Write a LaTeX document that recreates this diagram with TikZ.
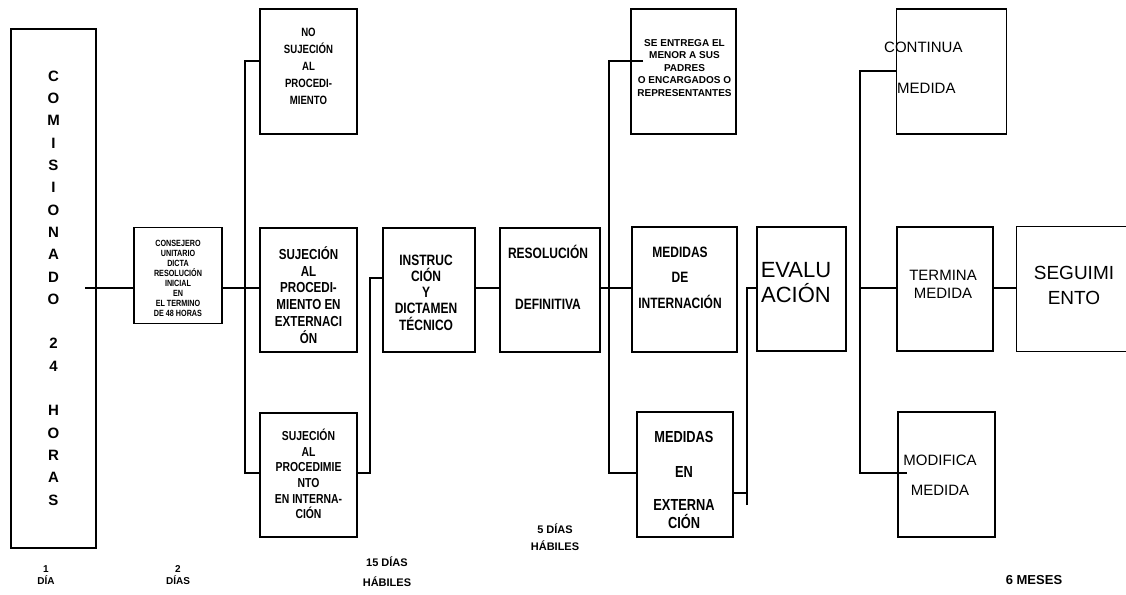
\documentclass[tikz,border=0pt]{standalone}
\usepackage{fontspec}
\setmainfont{Liberation Sans}
\newfontfamily\nar{Liberation Sans}[FakeStretch=0.8]
\newcommand\narf[2]{\nar\bfseries\fontsize{#1}{#2}\selectfont}
\newcommand\regf[2]{\normalfont\fontsize{#1}{#2}\selectfont}
\newcommand\bldf[2]{\normalfont\bfseries\fontsize{#1}{#2}\selectfont}
\begin{document}
\begin{tikzpicture}[x=1pt,y=-1pt,
  box/.style={draw, line width=1.2pt, inner sep=0pt, rectangle},
  wire/.style={line width=1.2pt},
  txt/.style={inner sep=0pt, align=center}]
\useasboundingbox (0,0) rectangle (1126,594);
% boxes
\node[box, minimum width=85pt, minimum height=519pt] (com) at (53.5,288.5) {};
\node[box, minimum width=88pt, minimum height=96pt] (cons) at (178,275.5) {};
\node[box, minimum width=97pt, minimum height=125pt] (nosuj) at (308.5,71.5) {};
\node[box, minimum width=97pt, minimum height=124pt] (sujext) at (308.5,290) {};
\node[box, minimum width=97pt, minimum height=124pt] (sujint) at (308.5,475) {};
\node[box, minimum width=92pt, minimum height=124pt] (instr) at (429,290) {};
\node[box, minimum width=100pt, minimum height=124pt] (res) at (550,290) {};
\node[box, minimum width=105pt, minimum height=125pt] (sent) at (683.5,71.5) {};
\node[box, minimum width=105pt, minimum height=125pt] (medint) at (684.5,289.5) {};
\node[box, minimum width=96pt, minimum height=125pt] (medext) at (685,474.5) {};
\node[box, minimum width=89pt, minimum height=124pt] (eval) at (801.5,289) {};
\node[box, minimum width=110pt, minimum height=125pt] (cont) at (951.5,71.5) {};
\node[box, minimum width=96pt, minimum height=124pt] (term) at (945,289) {};
\node[inner sep=0pt, minimum width=109pt, minimum height=124pt] (seg) at (1071.5,289) {};
\draw[line width=1.2pt] (seg.north east) -- (seg.north west) -- (seg.south west) -- (seg.south east);
\node[box, minimum width=97pt, minimum height=125pt] (modif) at (946.5,474.5) {};
% texts
\node[txt, font=\bldf{15}{22.3}] (tcom) at (53.5,288) {C\\O\\M\\I\\S\\I\\O\\N\\A\\D\\O\\[22.3pt]2\\4\\[22.3pt]H\\O\\R\\A\\S};
\node[txt, font=\narf{9}{10}] (tcons) at (178,278) {CONSEJERO\\UNITARIO\\DICTA\\RESOLUCIÓN\\INICIAL\\EN\\EL TERMINO\\DE 48 HORAS};
\node[txt, font=\narf{12}{17}] (tnosuj) at (308.5,66) {NO\\SUJECIÓN\\AL\\PROCEDI-\\MIENTO};
\node[txt, font=\narf{14.5}{16.8}] (tsujext) at (308.5,295) {SUJECIÓN\\AL\\PROCEDI-\\MIENTO EN\\EXTERNACI\\ÓN};
\node[txt, font=\narf{13}{15.6}] (tsujint) at (308.5,474) {SUJECIÓN\\AL\\PROCEDIMIE\\NTO\\EN INTERNA-\\CIÓN};
\node[txt, font=\narf{15}{16.3}] (tinstr) at (426,292.5) {INSTRUC\\CIÓN\\Y\\DICTAMEN\\TÉCNICO};
\node[txt, font=\narf{15}{17}] (tres) at (548,277.5) {RESOLUCIÓN\\[34pt]DEFINITIVA};
\node[txt, font=\bldf{10}{12.5}] (tsent) at (684.5,68) {SE ENTREGA EL\\MENOR A SUS\\PADRES\\O ENCARGADOS O\\REPRESENTANTES};
\node[txt, font=\narf{15}{25.5}] (tmedint) at (680,277.5) {MEDIDAS\\DE\\INTERNACIÓN};
\node[txt, font=\narf{16}{18}] (tmedext) at (684,480) {MEDIDAS\\[17pt]EN\\[15pt]EXTERNA\\CIÓN};
\node[txt, font=\regf{22}{25}] (teval) at (796,282.5) {EVALU\\ACIÓN};
\node[txt, anchor=west, font=\regf{15}{18}] (tcont1) at (884,47) {CONTINUA};
\node[txt, anchor=west, font=\regf{15}{18}] (tcont2) at (897,88) {MEDIDA};
\node[txt, font=\regf{15}{18}] (tterm) at (943,284) {TERMINA\\MEDIDA};
\node[txt, font=\regf{19}{25}] (tseg) at (1074,285.5) {SEGUIMI\\ENTO};
\node[txt, font=\regf{15}{30}] (tmodif) at (940,475) {MODIFICA\\MEDIDA};
% bottom labels
\node[txt, font=\bldf{10}{12}] (l1) at (46,575) {1\\DÍA};
\node[txt, font=\bldf{10}{12}] (l2) at (178,575) {2\\DÍAS};
\node[txt, font=\bldf{11}{20}] (l3) at (387,572) {15 DÍAS\\HÁBILES};
\node[txt, font=\bldf{11}{17}] (l4) at (555,537.5) {5 DÍAS\\HÁBILES};
\node[txt, font=\bldf{13}{15}] (l5) at (1034,580) {6 MESES};
% junction coordinates
\coordinate (comin) at (85,288);
\coordinate (b1t) at (245,61);
\coordinate (b1m) at (245,288);
\coordinate (b1b) at (245,473);
\coordinate (b2t) at (370,278);
\coordinate (b2b) at (370,473);
\coordinate (b3t) at (609,61);
\coordinate (b3m) at (609,288);
\coordinate (b3b) at (609,473);
\coordinate (sentin) at (643,61);
\coordinate (b4t) at (747,288);
\coordinate (b4j) at (747,493);
\coordinate (b4b) at (747,505);
\coordinate (b5t) at (860,71);
\coordinate (b5m) at (860,288);
\coordinate (b5b) at (860,473);
\coordinate (modin) at (907,473);
% connectors
\draw[wire] (comin) -- (cons.west |- b1m);
\draw[wire] (cons.east |- b1m) -- (b1m);
\draw[wire] (nosuj.west |- b1t) -- (b1t) -- (b1b) -- (sujint.west |- b1b);
\draw[wire] (b1m) -- (sujext.west |- b1m);
\draw[wire] (sujint.east |- b2b) -- (b2b) -- (b2t) -- (instr.west |- b2t);
\draw[wire] (instr.east |- b1m) -- (res.west |- b1m);
\draw[wire] (res.east |- b3m) -- (b3m);
\draw[wire] (sentin) -- (b3t) -- (b3b) -- (medext.west |- b3b);
\draw[wire] (b3m) -- (medint.west |- b3m);
\draw[wire] (medext.east |- b4j) -- (b4j);
\draw[wire] (b4b) -- (b4t) -- (eval.west |- b4t);
\draw[wire] (cont.west |- b5t) -- (b5t) -- (b5b) -- (modin);
\draw[wire] (b5m) -- (term.west |- b5m);
\draw[wire] (term.east |- b5m) -- (seg.west |- b5m);
\end{tikzpicture}
\end{document}
